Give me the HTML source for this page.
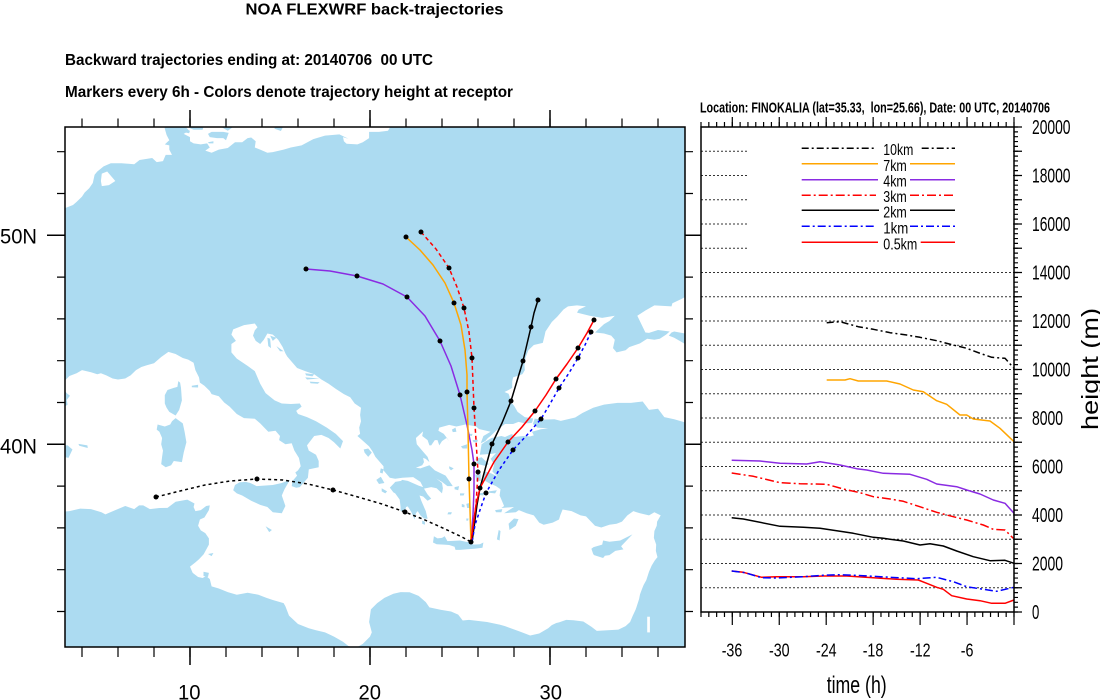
<!DOCTYPE html>
<html><head><meta charset="utf-8"><style>
html,body{margin:0;padding:0;background:#fff}
svg{display:block}
text{font-family:"Liberation Sans",Arial,sans-serif;fill:#000}
</style></head><body>
<svg width="1100" height="700" viewBox="0 0 1100 700" xmlns="http://www.w3.org/2000/svg">
<rect width="1100" height="700" fill="#fff"/>

<!-- Titles -->
<text x="245.5" y="14.5" font-size="15.5" font-weight="bold" textLength="258" lengthAdjust="spacingAndGlyphs">NOA FLEXWRF back-trajectories</text>
<text x="65" y="65" font-size="16" font-weight="bold" textLength="368" lengthAdjust="spacingAndGlyphs" style="white-space:pre">Backward trajectories ending at: 20140706  00 UTC</text>
<text x="65" y="97" font-size="16" font-weight="bold" textLength="448" lengthAdjust="spacingAndGlyphs">Markers every 6h - Colors denote trajectory height at receptor</text>
<text x="700" y="112.7" font-size="15" font-weight="bold" textLength="350" lengthAdjust="spacingAndGlyphs" style="white-space:pre">Location: FINOKALIA (lat=35.33,  lon=25.66), Date: 00 UTC, 20140706</text>

<!-- MAP -->
<defs><clipPath id="mc"><rect x="65" y="127" width="620" height="520"/></clipPath></defs>
<g clip-path="url(#mc)">
<rect x="65" y="127" width="620" height="520" fill="#acdbf1"/>
<g transform="matrix(18,0,0,-20.9,10,1280.3)" fill="#fff" stroke="none">
<!-- North Sea -->
<polygon points="0,56 0,51 2.5,51.1 3.2,51.35 3.5,51.45 3.7,51.6 4.0,51.85 4.15,52.05 4.4,52.25 4.6,52.5 4.7,52.9 4.85,53.05 5.2,53.3 5.6,53.45 6.2,53.45 6.9,53.4 7.2,53.6 7.9,53.7 8.15,53.5 8.5,53.55 8.65,53.85 9.0,53.85 8.85,54.1 8.85,54.3 8.6,54.35 8.85,54.55 8.7,54.8 8.6,55.1 8.5,56"/>
<polygon points="5.05,52.6 5.1,52.95 5.4,53.05 5.6,52.85 5.85,52.6 5.5,52.4 5.1,52.35"/>
<!-- Baltic -->
<polygon points="9.9,56 9.75,55.2 9.95,55.0 9.65,54.85 10.0,54.7 10.0,54.5 10.2,54.4 10.6,54.35 10.95,54.4 11.1,54.2 10.85,54.05 11.2,53.95 11.6,54.1 12.1,54.18 12.5,54.45 12.9,54.45 13.2,54.65 13.4,54.68 13.65,54.5 13.6,54.2 13.9,54.1 14.3,53.95 14.6,53.98 15.2,54.1 15.6,54.2 16.2,54.3 16.85,54.6 17.5,54.77 18.3,54.83 18.8,54.62 18.5,54.7 18.55,54.5 18.7,54.38 19.3,54.35 19.6,54.45 19.95,54.65 19.95,54.95 20.5,54.95 21.0,55.0 21.2,55.3 21.2,56"/>
<!-- Mediterranean -->
<polygon points="0,43 3.05,43.05 3.3,43.27 3.7,43.4 4.0,43.55 4.5,43.45 4.85,43.35 5.05,43.4 5.35,43.3 5.7,43.15 6.0,43.1 6.4,43.15 6.7,43.3 7.0,43.55 7.3,43.7 7.6,43.78 8.0,43.88 8.4,44.18 8.8,44.42 9.2,44.32 9.6,44.13 9.9,44.05 10.2,43.9 10.3,43.55 10.5,43.2 10.55,42.95 10.8,42.8 11.1,42.55 11.2,42.4 11.6,42.3 11.9,42.0 12.2,41.8 12.6,41.45 13.0,41.25 13.6,41.22 13.9,41.0 14.1,40.82 14.35,40.6 14.75,40.65 15.0,40.4 14.95,40.2 15.3,40.0 15.65,40.05 15.8,39.7 16.05,39.35 16.15,38.95 16.0,38.75 15.85,38.65 15.95,38.5 15.7,38.25 15.65,38.0 15.9,37.92 16.1,37.95 16.55,38.4 16.6,38.8 17.15,38.9 17.15,39.2 17.0,39.5 16.6,39.7 16.5,39.95 16.9,40.4 17.3,40.45 17.7,40.3 18.0,40.1 18.35,39.8 18.5,40.15 18.1,40.5 17.6,40.8 17.0,41.1 16.5,41.3 16.0,41.45 15.9,41.6 16.2,41.8 16.1,41.95 15.6,41.93 15.1,41.95 14.7,42.1 14.2,42.45 13.9,42.9 13.6,43.5 13.2,43.75 12.6,44.1 12.3,44.4 12.3,44.8 12.55,44.95 12.3,45.25 12.4,45.5 13.0,45.7 13.6,45.78 13.75,45.6 13.6,45.45 13.5,45.2 13.65,44.95 13.9,44.8 14.1,45.0 14.3,45.3 14.6,45.25 14.9,45.0 15.15,44.65 15.3,44.35 15.4,44.2 15.65,43.95 15.95,43.65 16.4,43.5 16.9,43.35 17.3,43.1 17.7,42.9 18.1,42.65 18.55,42.4 18.9,42.25 19.15,41.95 19.5,41.75 19.45,41.4 19.5,41.1 19.4,40.8 19.45,40.5 19.3,40.4 19.5,40.25 19.95,39.9 20.15,39.65 20.3,39.4 20.6,39.1 20.75,38.95 20.75,38.75 21.1,38.4 21.4,38.35 21.8,38.4 22.4,38.43 22.8,38.2 22.95,37.95 22.7,38.02 22.1,38.25 21.78,38.3 21.73,38.25 21.4,38.2 21.35,38.15 21.1,37.93 21.3,37.7 21.4,37.65 21.65,37.35 21.7,37.0 21.7,36.8 21.95,36.8 22.0,37.0 22.1,37.03 22.3,36.75 22.48,36.4 22.55,36.7 22.65,36.8 22.8,36.6 23.0,36.45 23.2,36.44 23.1,36.8 22.85,37.3 22.75,37.55 22.95,37.5 23.2,37.3 23.4,37.4 23.2,37.6 23.0,37.88 23.4,37.95 23.7,37.9 24.0,37.65 24.05,37.9 24.0,38.15 23.7,38.35 23.6,38.45 23.2,38.65 22.8,38.85 22.55,38.88 22.9,39.0 23.0,39.15 22.95,39.35 23.1,39.3 23.3,39.15 23.2,39.4 22.9,39.7 22.6,40.0 22.55,40.3 22.8,40.5 22.95,40.62 22.9,40.4 23.2,40.2 23.3,39.95 23.4,39.95 23.6,40.2 23.75,40.2 23.85,39.95 24.0,40.15 24.25,40.3 24.4,40.15 24.1,40.5 23.8,40.65 23.85,40.8 24.4,40.93 24.8,40.85 25.3,40.95 25.9,40.85 26.05,40.73 26.7,40.6 26.3,40.4 26.15,40.05 26.2,40.0 26.15,39.75 26.1,39.5 26.8,39.55 27.0,39.58 26.7,39.3 26.9,39.05 26.8,38.7 27.1,38.45 26.75,38.6 26.4,38.7 26.3,38.3 26.6,38.15 27.0,38.0 27.25,37.85 27.2,37.55 27.3,37.35 27.45,37.05 27.3,36.95 28.0,37.0 27.45,36.7 28.1,36.75 28.27,36.85 28.7,36.7 29.1,36.6 29.4,36.25 29.65,36.15 30.15,36.25 30.5,36.4 30.57,36.6 30.7,36.88 31.2,36.8 31.7,36.6 32.0,36.55 32.5,36.1 32.85,36.02 33.3,36.15 33.7,36.2 34.0,36.3 34.3,36.6 34.63,36.8 35.0,36.7 35.5,36.6 35.8,36.75 36.15,36.6 35.95,36.3 35.93,36.1 35.8,35.85 35.77,35.52 35.9,35.2 35.88,34.9 35.97,34.6 35.82,34.44 35.65,34.2 35.5,33.9 35.35,33.5 35.2,33.27 35.1,33.05 35.0,32.82 34.95,32.6 34.8,32.2 34.75,32.08 34.6,31.8 34.45,31.5 34.2,31.3 33.8,31.13 33.2,31.1 32.6,31.07 32.3,31.27 31.85,31.52 31.3,31.58 30.9,31.6 30.5,31.48 30.35,31.45 30.1,31.35 29.9,31.2 29.4,30.95 28.9,30.85 28.3,31.05 27.5,31.3 27.2,31.37 26.5,31.5 25.5,31.6 25.15,31.57 24.9,31.85 24.5,32.0 23.95,32.08 23.3,32.2 23.1,32.45 22.7,32.75 22.2,32.92 21.7,32.93 21.3,32.85 20.8,32.65 20.4,32.4 20.05,32.1 19.95,31.5 20.1,31.0 20.0,30.8 19.6,30.45 19.2,30.25 18.8,30.35 18.5,30.55 18.0,30.8 17.5,31.0 17.0,31.1 16.6,31.2 16.0,31.4 15.5,31.8 15.3,32.25 15.2,32.4 14.6,32.55 14.25,32.65 13.8,32.8 13.2,32.9 12.6,32.8 12.1,32.93 11.6,33.1 11.2,33.2 11.1,33.55 10.9,33.7 10.7,33.6 10.45,33.65 10.15,33.85 10.0,34.15 10.3,34.35 10.5,34.5 10.76,34.74 11.05,35.2 11.05,35.5 10.85,35.75 10.6,35.88 10.45,36.1 10.55,36.4 10.8,36.5 11.05,36.85 11.1,37.08 10.9,37.05 10.6,36.85 10.3,36.8 10.2,37.0 10.25,37.17 9.85,37.35 9.2,37.25 8.75,36.96 8.3,36.95 7.77,36.9 7.4,37.08 7.17,37.08 6.9,36.9 6.4,37.05 5.77,36.82 5.3,36.65 5.08,36.75 4.5,36.9 3.9,36.92 3.3,36.8 3.0,36.78 0,36.5"/>
<!-- Marmara -->
<polygon points="26.15,40.05 26.4,40.15 26.55,40.3 26.7,40.4 27.0,40.65 27.5,40.97 27.95,40.97 28.25,41.07 28.6,41.0 28.98,41.02 29.03,41.1 29.06,41.25 29.15,41.22 29.08,41.05 29.05,40.97 29.3,40.8 29.9,40.76 29.5,40.72 29.0,40.6 29.1,40.43 28.9,40.38 28.5,40.4 27.97,40.35 27.9,40.5 27.5,40.35 27.3,40.4 26.75,40.3 26.4,40.12 26.2,40.0"/>
<!-- Black Sea + Azov -->
<polygon points="29.1,41.23 28.6,41.3 28.2,41.55 28.0,41.85 27.8,42.05 27.75,42.3 27.7,42.42 27.47,42.5 27.7,42.6 27.9,42.7 27.9,43.0 27.95,43.2 28.47,43.36 28.6,43.55 28.58,43.8 28.65,44.17 28.8,44.5 29.1,44.75 29.6,44.85 29.7,45.2 29.75,45.4 30.1,45.85 30.4,46.1 30.75,46.45 31.0,46.6 31.5,46.65 32.0,46.6 31.6,46.45 31.5,46.3 32.2,46.15 32.9,46.05 33.6,46.15 33.3,45.9 33.0,45.75 32.5,45.35 33.0,45.3 33.4,45.2 33.6,45.0 33.5,44.6 33.7,44.4 34.2,44.5 34.4,44.65 35.0,44.83 35.4,45.05 35.8,45.0 36.1,45.05 36.45,45.25 36.65,45.4 36.0,45.47 35.5,45.33 35.3,45.35 34.85,46.15 35.3,46.4 35.8,46.65 36.75,46.6 36.8,46.75 37.3,46.95 37.6,47.1 38.5,47.2 38.5,45.3 37.5,45.3 36.9,45.4 36.75,45.35 36.6,45.2 36.9,45.1 37.3,44.9 37.8,44.65 38.5,44.5 38.5,41.0 37.5,41.05 36.9,41.2 36.35,41.3 36.0,41.7 35.5,41.65 35.15,42.05 34.5,41.98 33.75,41.98 33.0,41.9 32.4,41.75 31.8,41.5 31.4,41.28 30.6,41.12 30.25,41.2 29.6,41.18 29.15,41.23"/>
<!-- Dead Sea -->
<polygon points="35.4,31.75 35.55,31.75 35.55,31.0 35.4,31.0"/>
</g>
<g transform="matrix(18,0,0,-20.9,10,1280.3)" fill="#acdbf1" stroke="none">
<polygon points="9.7,55.5 10.0,55.6 10.8,55.35 10.7,55.05 10.2,55.05 9.8,55.2"/>
<polygon points="11.2,55.5 11.8,55.5 12.2,55.3 12.5,55.25 12.1,55.0 11.7,55.2 11.3,55.2"/>
<polygon points="11.0,54.85 11.2,54.95 11.85,54.95 12.15,54.9 12.0,54.55 11.85,54.65 11.5,54.65 11.1,54.7"/>
<polygon points="9.8,55.05 10.0,55.0 9.95,54.88 9.75,54.92"/>
<polygon points="11.0,54.45 11.3,54.5 11.3,54.4 11.05,54.4"/>
<polygon points="14.7,55.3 15.15,55.15 15.05,54.99 14.7,55.1"/>
<polygon points="2.5,41.5 3.2,41.9 3.15,42.12 3.33,42.32 3.15,42.45 3.05,42.55 2.5,42.6"/>
<polygon points="2.3,39.55 2.8,39.95 3.2,39.95 3.47,39.75 3.25,39.35 2.7,39.45"/>
<polygon points="3.8,40.02 4.3,39.95 4.32,39.82 3.85,39.93"/>
<polygon points="9.35,43.02 9.45,42.95 9.5,42.7 9.55,42.1 9.4,41.65 9.2,41.38 8.85,41.55 8.7,41.75 8.6,41.95 8.6,42.35 8.75,42.6 9.1,42.7 9.3,42.75"/>
<polygon points="9.2,41.25 9.6,41.0 9.7,40.6 9.8,40.1 9.65,39.6 9.55,39.15 9.1,39.2 8.95,39.0 8.65,38.9 8.4,39.05 8.45,39.4 8.5,39.7 8.4,40.0 8.45,40.3 8.3,40.6 8.15,40.7 8.2,40.95 8.6,40.85 8.9,40.95 9.0,41.1"/>
<polygon points="10.1,42.8 10.45,42.85 10.45,42.72 10.1,42.73"/>
<polygon points="12.4,37.8 12.5,38.05 12.75,38.18 13.1,38.2 13.35,38.15 13.7,38.0 14.1,38.02 14.6,38.05 15.1,38.15 15.55,38.3 15.25,37.85 15.1,37.55 15.2,37.3 15.3,37.05 15.1,36.7 14.6,36.75 14.3,37.0 13.9,37.1 13.4,37.3 12.9,37.55 12.6,37.65"/>
<polygon points="14.2,36.08 14.55,35.9 14.4,35.8"/>
<polygon points="10.75,33.9 11.05,33.85 11.0,33.65 10.75,33.7"/>
<polygon points="11.0,34.75 11.3,34.8 11.2,34.65"/>
<polygon points="23.5,35.3 23.55,35.6 23.75,35.5 24.0,35.52 24.15,35.6 24.3,35.37 24.6,35.38 25.0,35.4 25.35,35.33 25.6,35.3 25.75,35.2 26.1,35.22 26.3,35.3 26.25,35.05 25.8,35.0 25.4,34.98 25.0,34.95 24.75,34.95 24.7,35.1 24.4,35.18 24.1,35.2 23.7,35.22"/>
<polygon points="34.58,35.69 33.95,35.12 34.08,34.97 33.63,34.9 33.3,34.7 33.05,34.67 32.95,34.56 32.45,34.7 32.4,34.75 32.3,35.0 32.42,35.08 32.9,35.2 32.95,35.4 33.3,35.34 33.9,35.4"/>
<polygon points="27.7,36.2 28.0,36.45 28.25,36.42 28.1,36.1 27.75,35.9"/>
<polygon points="27.05,35.45 27.15,35.9 27.25,35.85 27.2,35.4"/>
<polygon points="26.95,36.85 27.35,36.9 27.3,36.75 27.0,36.75"/>
<polygon points="22.8,38.85 23.3,39.0 23.6,38.75 24.2,38.5 24.6,38.0 24.3,38.0 24.0,38.2 23.6,38.4 23.2,38.6"/>
<polygon points="25.85,39.3 26.2,39.38 26.6,39.05 26.4,38.97 26.0,39.05"/>
<polygon points="25.85,38.55 26.15,38.6 26.15,38.25 25.9,38.25"/>
<polygon points="26.6,37.75 27.05,37.8 26.95,37.65 26.6,37.68"/>
<polygon points="26.0,37.65 26.35,37.68 26.3,37.55 26.05,37.58"/>
<polygon points="25.35,37.15 25.55,37.2 25.6,36.95 25.4,36.95"/>
<polygon points="25.1,37.15 25.25,37.1 25.25,36.98 25.1,37.0"/>
<polygon points="24.7,37.95 24.95,38.0 24.9,37.8 24.7,37.85"/>
<polygon points="25.0,37.65 25.25,37.65 25.2,37.55 25.0,37.55"/>
<polygon points="24.35,36.75 24.55,36.75 24.5,36.65 24.3,36.65"/>
<polygon points="25.35,36.45 25.48,36.45 25.45,36.35 25.35,36.35"/>
<polygon points="25.05,39.9 25.4,40.0 25.4,39.8 25.15,39.8"/>
<polygon points="24.55,40.7 24.75,40.8 24.8,40.6 24.6,40.58"/>
<polygon points="25.5,40.5 25.7,40.5 25.65,40.4 25.5,40.42"/>
<polygon points="25.7,40.2 26.0,40.22 25.95,40.1 25.75,40.1"/>
<polygon points="24.4,38.95 24.65,38.85 24.5,38.75 24.4,38.85"/>
<polygon points="22.9,36.35 23.05,36.3 23.05,36.15 22.9,36.2"/>
<polygon points="19.65,39.75 19.9,39.8 20.1,39.6 19.9,39.4 19.7,39.6"/>
<polygon points="20.35,38.3 20.6,38.45 20.8,38.15 20.5,38.1"/>
<polygon points="20.65,37.9 20.95,37.75 20.85,37.65 20.65,37.75"/>
<polygon points="20.6,38.85 20.75,38.8 20.7,38.6 20.55,38.65"/>
<polygon points="14.45,45.2 14.8,45.1 14.6,44.95"/>
<polygon points="14.3,45.1 14.45,45.05 14.5,44.6 14.35,44.7"/>
<polygon points="14.8,44.7 15.2,44.45 15.0,44.45"/>
<polygon points="16.4,43.4 16.9,43.35 16.8,43.25 16.45,43.3"/>
<polygon points="16.4,43.2 17.2,43.15 16.5,43.1"/>
<polygon points="16.65,43.0 17.2,42.97 17.1,42.9 16.7,42.92"/>
</g>

<!-- Trajectories -->
<g fill="none" stroke-width="1.5" stroke-linejoin="round">
<polyline stroke="#000" stroke-dasharray="3,3" points="156,497 180,491 205,485 230,481 257,479 283,480 308,484 333,490 358,497 382,504 405,512 425,520 445,529 462,537 471,542"/>
<polyline stroke="#8a2be2" points="306,269 330,271 357,276 383,284 407,297 425,316 440,341 451,366 460,395 467,425 472,450 474,464 474,490 473,515 471,542"/>
<polyline stroke="#ffa500" points="406,237 420,250 433,265 445,283 454,303 461,325 465,350 467,375 467,392 468,430 469,479 470,510 471,542"/>
<polyline stroke="#ff0000" stroke-dasharray="4,3" points="421,232 436,249 449,268 457,287 464,308 469,332 472,358 473,383 474,408 476,440 478,472 476,505 471,542"/>
<polyline stroke="#000" points="538,300 534,313 531,327 527,344 523,361 517,381 511,401 502,423 492,444 486,466 480,488 477,505 475,520 472,542"/>
<polyline stroke="#0000ff" stroke-dasharray="3,3" points="591,332 585,345 578,358 569,373 559,388 550,404 541,419 527,435 513,450 499,470 486,493 480,510 475,525 472,542"/>
<polyline stroke="#ff0000" points="594,320 587,333 578,348 567,364 556,379 546,395 535,411 522,427 508,442 494,462 480,488 476,505 474,520 471,542"/>
</g>
<g fill="#000">
<circle cx="156" cy="497" r="2.5"/><circle cx="257" cy="479" r="2.5"/><circle cx="333" cy="490" r="2.5"/><circle cx="405" cy="512" r="2.5"/>
<circle cx="306" cy="269" r="2.5"/><circle cx="357" cy="276" r="2.5"/><circle cx="407" cy="297" r="2.5"/><circle cx="440" cy="341" r="2.5"/><circle cx="460" cy="395" r="2.5"/><circle cx="474" cy="464" r="2.5"/>
<circle cx="406" cy="237" r="2.5"/><circle cx="454" cy="303" r="2.5"/><circle cx="467" cy="392" r="2.5"/><circle cx="469" cy="479" r="2.5"/>
<circle cx="421" cy="232" r="2.5"/><circle cx="449" cy="268" r="2.5"/><circle cx="464" cy="308" r="2.5"/><circle cx="472" cy="358" r="2.5"/><circle cx="474" cy="408" r="2.5"/><circle cx="478" cy="472" r="2.5"/>
<circle cx="538" cy="300" r="2.5"/><circle cx="531" cy="327" r="2.5"/><circle cx="523" cy="361" r="2.5"/><circle cx="511" cy="401" r="2.5"/><circle cx="492" cy="444" r="2.5"/><circle cx="480" cy="488" r="2.5"/>
<circle cx="591" cy="332" r="2.5"/><circle cx="578" cy="358" r="2.5"/><circle cx="559" cy="388" r="2.5"/><circle cx="541" cy="419" r="2.5"/><circle cx="513" cy="450" r="2.5"/><circle cx="486" cy="493" r="2.5"/>
<circle cx="594" cy="320" r="2.5"/><circle cx="578" cy="348" r="2.5"/><circle cx="556" cy="379" r="2.5"/><circle cx="535" cy="411" r="2.5"/><circle cx="508" cy="442" r="2.5"/>
<circle cx="471" cy="542" r="2.5"/>
</g>
</g>
<rect x="65" y="127" width="620" height="520" fill="none" stroke="#000" stroke-width="1.5"/>

<!-- Map ticks -->
<g stroke="#000" fill="none">
<path d="M81.4 122.75 H659" stroke-width="8.5" stroke-dasharray="1.2 34.8"/>
<path d="M81.4 652 H659" stroke-width="10" stroke-dasharray="1.2 34.8"/>
<path d="M61 612.1 V151" stroke-width="8" stroke-dasharray="1.2 40.6"/>
<path d="M689 612.1 V151" stroke-width="8" stroke-dasharray="1.2 40.6"/>
<path d="M190 110 V127 M370 110 V127 M550 110 V127 M190 647 V665 M370 647 V665 M550 647 V665 M47 235.3 H65 M47 444.3 H65 M685 235.3 H701 M685 444.3 H701" stroke-width="1.5"/>
</g>
<text x="37" y="243.3" font-size="21" text-anchor="end" textLength="37" lengthAdjust="spacingAndGlyphs">50N</text>
<text x="37" y="453.3" font-size="21" text-anchor="end" textLength="37" lengthAdjust="spacingAndGlyphs">40N</text>
<text x="178" y="699.5" font-size="21" textLength="22.5" lengthAdjust="spacingAndGlyphs">10</text>
<text x="358.5" y="699.5" font-size="21" textLength="22.5" lengthAdjust="spacingAndGlyphs">20</text>
<text x="539.5" y="699.5" font-size="21" textLength="22.5" lengthAdjust="spacingAndGlyphs">30</text>

<!-- TIME SERIES PANEL -->
<g stroke="#333" stroke-width="1" stroke-dasharray="2,2" fill="none">
<path d="M701 587.75 H1014 M701 563.5 H1014 M701 539.25 H1014 M701 515 H1014 M701 490.75 H1014 M701 466.5 H1014 M701 442.25 H1014 M701 418 H1014 M701 393.75 H1014 M701 369.5 H1014 M701 345.25 H1014 M701 321 H1014 M701 296.75 H1014 M701 272.5 H1014 M701 248.25 H1014 M701 224 H1014 M701 199.75 H1014 M701 175.5 H1014 M701 151.25 H1014"/>
</g>
<rect x="748" y="138" width="265" height="120" fill="#fff"/>

<g fill="none" stroke-width="1.5" stroke-linejoin="round">
<polyline stroke="#000" stroke-dasharray="7,3,2,3" points="826.7,322.7 840,321.7 858.3,326.7 873.3,329.3 890,332.7 906.7,335 920,337.3 936.7,340.7 953.3,345 966.7,348.3 980,353.3 991.7,357.3 1005,358.3 1014,368.3"/>
<polyline stroke="#ffa500" points="826.7,380 845,380 850,378.7 858.3,381 886.7,381 900,384 913.3,390 923.3,391.7 936.7,400.7 946.7,404.3 960,415 966.7,415 973.3,419 990,421 1000,428.3 1014,441.7"/>
<polyline stroke="#8a2be2" points="731.7,460.3 760,461 780,463.3 806.7,464 820,461.7 840,465 856.7,468.7 866.7,470 883.3,473.3 910,474.3 926.7,479.3 936.7,484 956.7,486.7 966.7,490 980,494 993.3,500 1005,503.3 1014,513.3"/>
<polyline stroke="#ff0000" stroke-dasharray="9,3,2,3" points="731.7,473 753.3,476.3 780,482.7 800,483.7 826.7,484.3 843.3,489 860,492.7 873.3,496.7 890,499 903.3,501.3 916.7,505.7 936.7,512.3 953.3,516.7 966.7,520 983.3,525 993.3,529.3 1005,530 1013.3,538.3"/>
<polyline stroke="#000" points="731.7,517.7 743.3,519 780,526.3 803.3,527.3 820,528.3 836.7,530.7 853.3,533.3 873.3,537.3 883.3,538.3 903.3,541 920,545 930,543.7 943.3,546 956.7,551 973.3,556.7 990,560.7 1005,560.3 1014,563.3"/>
<polyline stroke="#ff0000" points="731.7,571 743.3,572.3 761.7,577.3 776.7,576.7 803.3,576.7 823.3,576 846.7,576 873.3,577.7 896.7,579.3 918.3,580 926.7,583.3 936.7,587.3 943.3,589.3 951.7,595.7 966.7,599 980,600.7 991.7,603.3 1005,603.3 1014,600"/>
<polyline stroke="#0000ff" stroke-dasharray="8,3,2,3" points="731.7,571 745,572.7 761.7,577.7 776.7,578 803.3,576.7 823.3,575.3 840,574.7 863.3,575.7 890,577.3 916.7,578.7 936.7,577.3 953.3,581.7 966.7,586.7 983.3,589.3 996.7,591.3 1014,587.3"/>
</g>

<!-- Legend -->
<g fill="none" stroke-width="1.5">
<path d="M801.7 148.3 H876 M921.7 148.3 H955" stroke="#000" stroke-dasharray="7,3,2,3"/>
<path d="M801.7 163.7 H878 M910 163.7 H955" stroke="#ffa500"/>
<path d="M801.7 179.7 H878 M910 179.7 H955" stroke="#8a2be2"/>
<path d="M801.7 195.3 H876 M910 195.3 H955" stroke="#ff0000" stroke-dasharray="9,3,2,3"/>
<path d="M801.7 210.3 H879 M910 210.3 H955" stroke="#000"/>
<path d="M801.7 226.3 H876 M910 226.3 H955" stroke="#0000ff" stroke-dasharray="8,3,2,3"/>
<path d="M801.7 242.3 H878 M920.7 242.3 H955" stroke="#ff0000"/>
</g>
<g font-size="16">
<text x="883.3" y="155" textLength="30" lengthAdjust="spacingAndGlyphs">10km</text>
<text x="883.3" y="171" textLength="23.5" lengthAdjust="spacingAndGlyphs">7km</text>
<text x="883.3" y="186.7" textLength="23.5" lengthAdjust="spacingAndGlyphs">4km</text>
<text x="883.3" y="202" textLength="23.5" lengthAdjust="spacingAndGlyphs">3km</text>
<text x="883.3" y="217.5" textLength="23.5" lengthAdjust="spacingAndGlyphs">2km</text>
<text x="883.3" y="233.3" textLength="25" lengthAdjust="spacingAndGlyphs">1km</text>
<text x="883.3" y="249.3" textLength="34" lengthAdjust="spacingAndGlyphs">0.5km</text>
</g>

<rect x="701" y="127" width="313" height="485" fill="none" stroke="#000" stroke-width="1.5"/>

<!-- Time panel ticks -->
<g stroke="#000" fill="none">
<path d="M700.4 614.5 H1015" stroke-width="5" stroke-dasharray="1.2 6.625"/>
<path d="M731.7 618.5 H1015" stroke-width="13" stroke-dasharray="1.2 45.75"/>
<path d="M700.4 124.5 H1015" stroke-width="5" stroke-dasharray="1.2 6.625"/>
<path d="M731.7 122 H1015" stroke-width="10" stroke-dasharray="1.2 45.75"/>
<path d="M1016 612.6 V126" stroke-width="4" stroke-dasharray="1.2 3.65"/>
<path d="M1018 612.6 V126" stroke-width="8" stroke-dasharray="1.2 23.05"/>
</g>

<g font-size="18.5">
<text x="721.7" y="656.7" textLength="20.6" lengthAdjust="spacingAndGlyphs">-36</text>
<text x="769" y="656.7" textLength="20.6" lengthAdjust="spacingAndGlyphs">-30</text>
<text x="816" y="656.7" textLength="20.6" lengthAdjust="spacingAndGlyphs">-24</text>
<text x="862.7" y="656.7" textLength="20.6" lengthAdjust="spacingAndGlyphs">-18</text>
<text x="910" y="656.7" textLength="20.6" lengthAdjust="spacingAndGlyphs">-12</text>
<text x="960.7" y="656.7" textLength="12.7" lengthAdjust="spacingAndGlyphs">-6</text>
</g>
<text x="826.7" y="693" font-size="24" textLength="60" lengthAdjust="spacingAndGlyphs">time (h)</text>

<g font-size="20">
<text x="1032" y="619" textLength="7.3" lengthAdjust="spacingAndGlyphs">0</text>
<text x="1032" y="570.5" textLength="31" lengthAdjust="spacingAndGlyphs">2000</text>
<text x="1032" y="522" textLength="31" lengthAdjust="spacingAndGlyphs">4000</text>
<text x="1032" y="473.5" textLength="31" lengthAdjust="spacingAndGlyphs">6000</text>
<text x="1032" y="425" textLength="31" lengthAdjust="spacingAndGlyphs">8000</text>
<text x="1032" y="376.5" textLength="38.5" lengthAdjust="spacingAndGlyphs">10000</text>
<text x="1032" y="328" textLength="38.5" lengthAdjust="spacingAndGlyphs">12000</text>
<text x="1032" y="279.5" textLength="38.5" lengthAdjust="spacingAndGlyphs">14000</text>
<text x="1032" y="231" textLength="38.5" lengthAdjust="spacingAndGlyphs">16000</text>
<text x="1032" y="182.5" textLength="38.5" lengthAdjust="spacingAndGlyphs">18000</text>
<text x="1032" y="134" textLength="38.5" lengthAdjust="spacingAndGlyphs">20000</text>
</g>
<text transform="translate(1098,369) rotate(-90)" font-size="23" text-anchor="middle" textLength="122" lengthAdjust="spacingAndGlyphs">height (m)</text>
</svg>
</body></html>
